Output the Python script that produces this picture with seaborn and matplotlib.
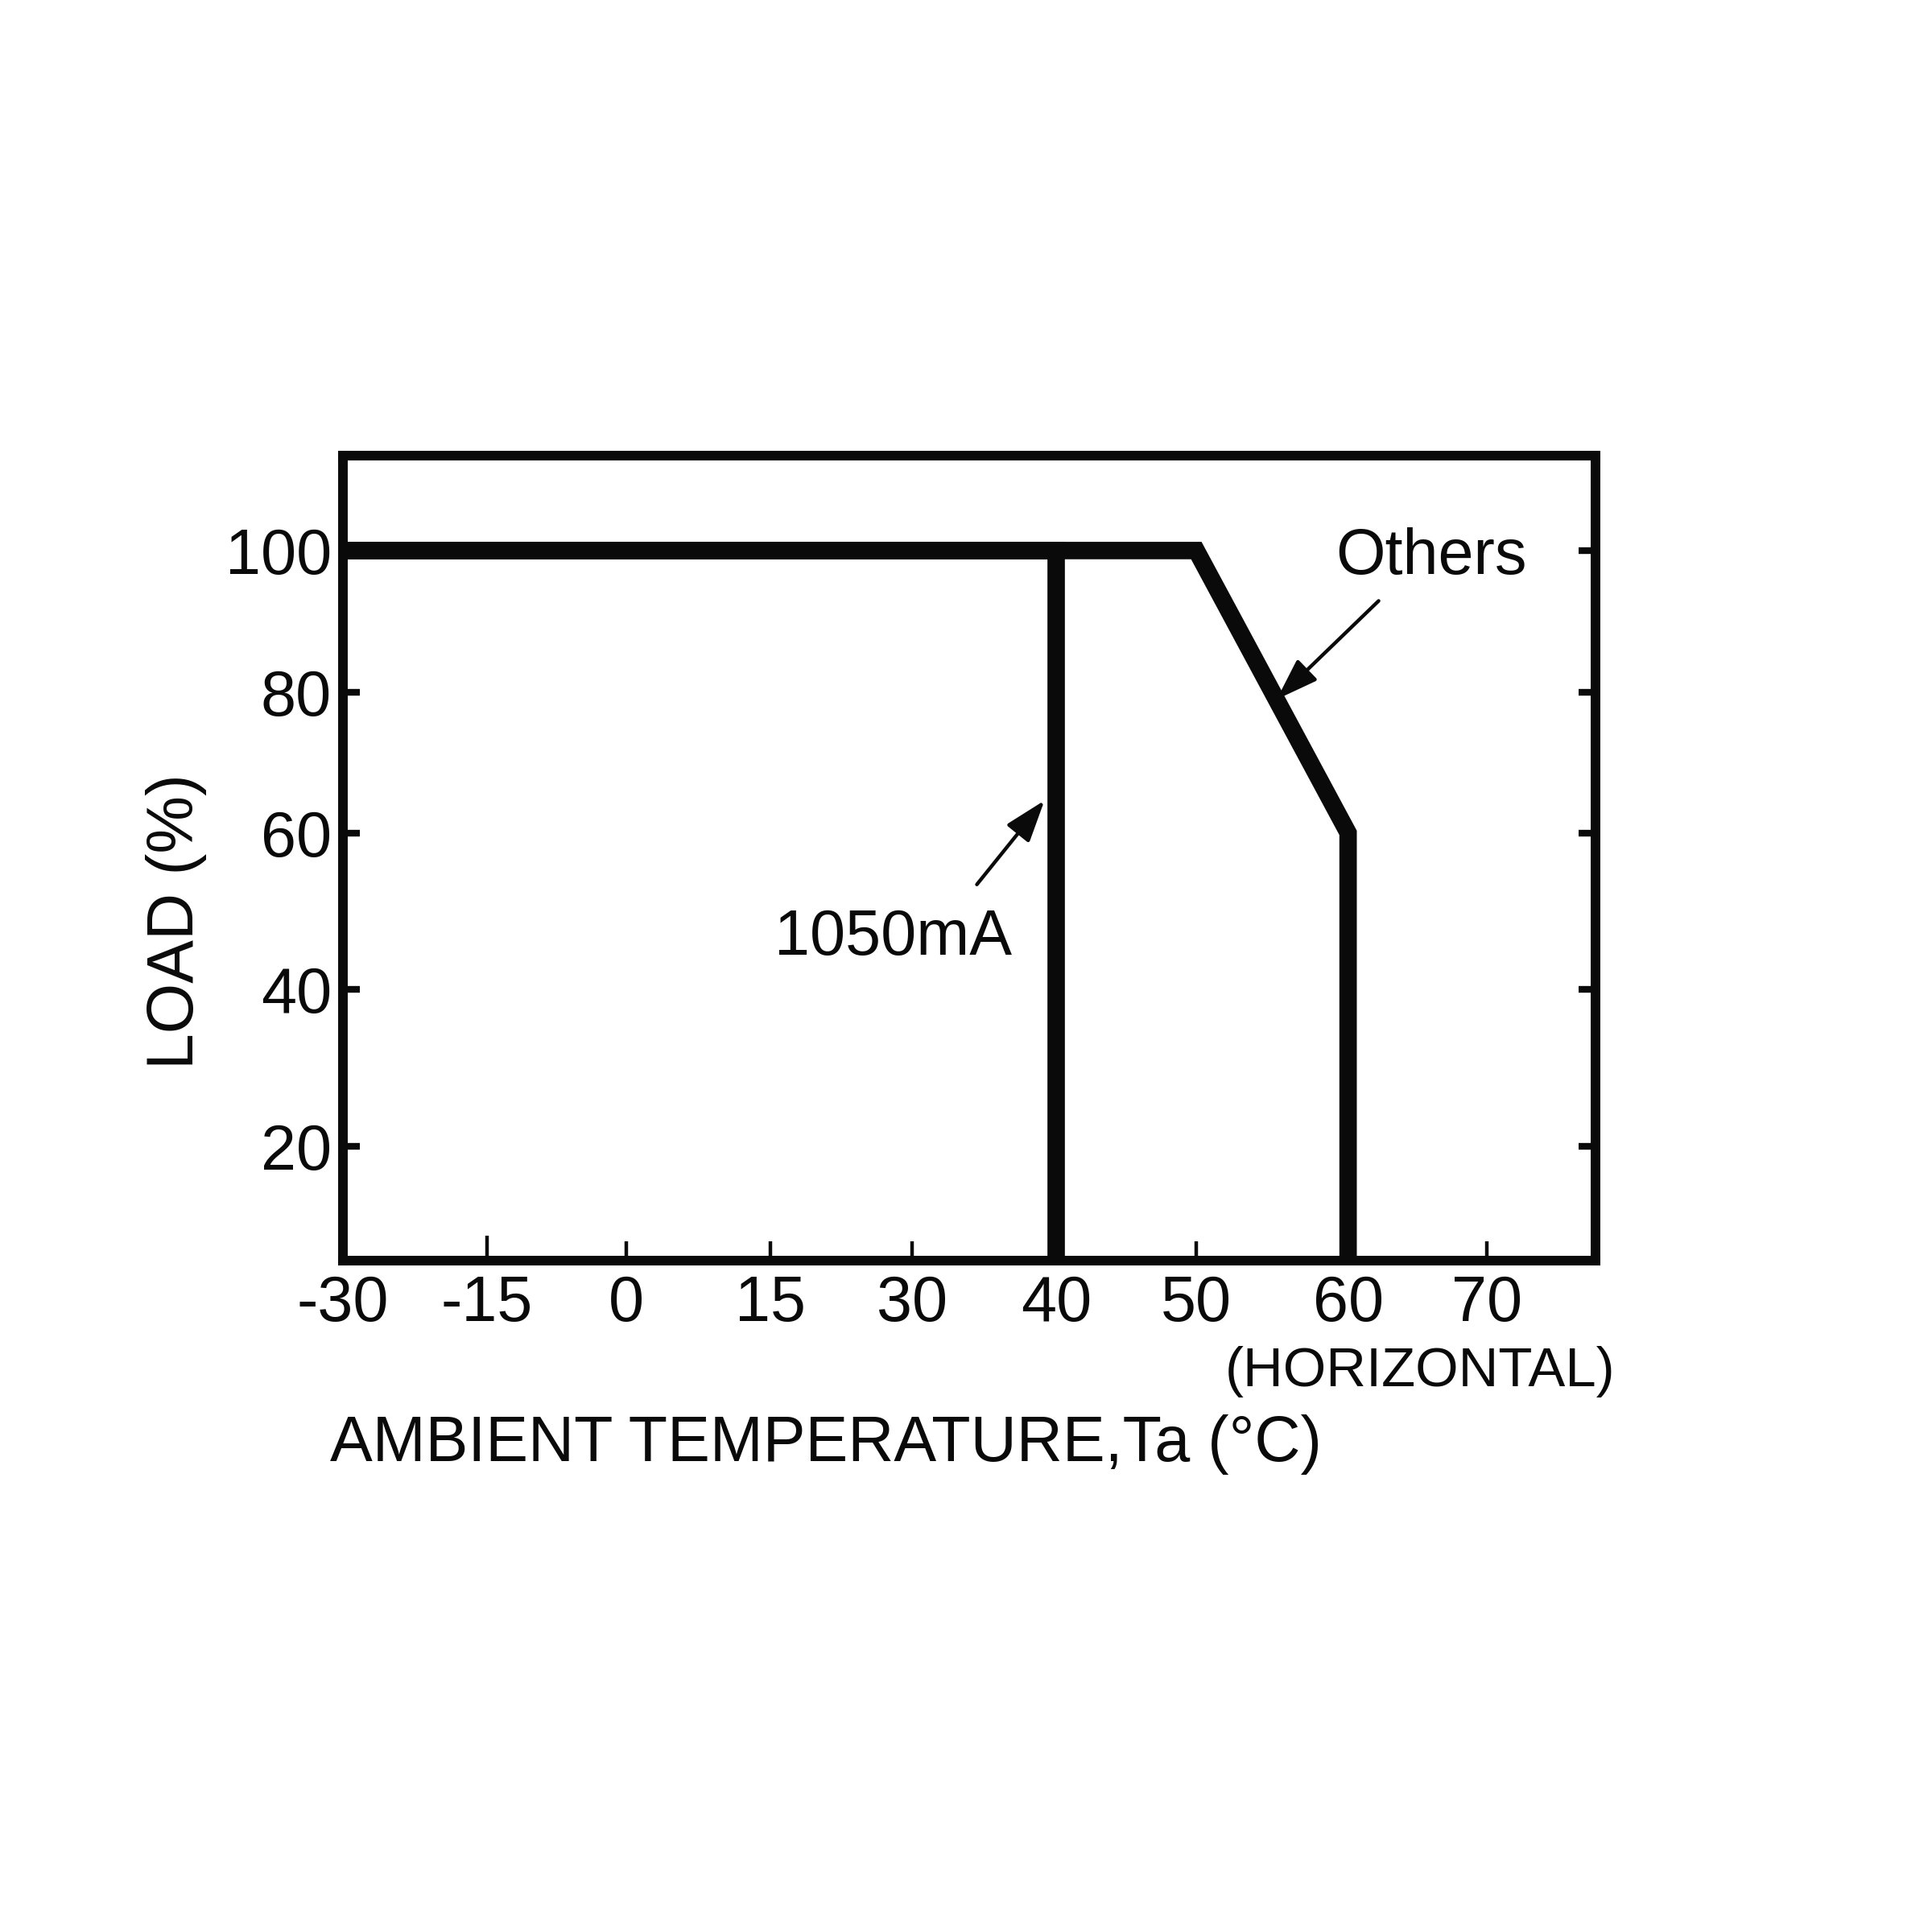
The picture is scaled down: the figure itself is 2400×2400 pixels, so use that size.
"""
Derating curve: output load vs ambient temperature.
The temperature axis in the datasheet is not linear (15 degC steps below 30,
10 degC steps above), so a piecewise function scale reproduces that spacing.
"""

import numpy as np
import matplotlib
matplotlib.use("Agg")
import matplotlib.pyplot as plt
import seaborn as sns

# ---- data -------------------------------------------------------------
TEMP_TICKS = [-30, -15, 0, 15, 30, 40, 50, 60, 70]
TEMP_TICK_LABELS = ["-30", "-15", "0", "15", "30", "40", "50", "60", "70"]
LOAD_TICKS = [20, 40, 60, 80, 100]

OTHERS_TEMP = [-30, 50, 60, 60]
OTHERS_LOAD = [100, 100, 60, 0]

MA1050_TEMP = [-30, 40, 40]
MA1050_LOAD = [100, 100, 0]

INK = "#0a0a0a"

# ---- piecewise axis scales (tick spacing as drawn on the datasheet) ---
X_KNOTS = [-45, -30, -15, 0, 15, 30, 40, 50, 60, 70, 80]
X_POS = [-1, 0, 1.006, 1.98, 2.985, 3.975, 4.98, 5.96, 7.02, 7.99, 9.0]
Y_KNOTS = [0, 20, 40, 60, 80, 100, 120]
Y_POS = [-127, 0, 127, 254, 368, 483, 598]


def x_fwd(v):
    return np.interp(v, X_KNOTS, X_POS)


def x_inv(p):
    return np.interp(p, X_POS, X_KNOTS)


def y_fwd(v):
    return np.interp(v, Y_KNOTS, Y_POS)


def y_inv(p):
    return np.interp(p, Y_POS, Y_KNOTS)


sns.set_theme(style="white")
plt.rcParams["font.family"] = ["Liberation Sans", "DejaVu Sans"]
plt.rcParams["axes.unicode_minus"] = False

fig = plt.figure(figsize=(12, 12), dpi=200)
ax = fig.add_axes([0.1775, 0.3475, 0.6483, 0.4167])
ax.set_xscale("function", functions=(x_fwd, x_inv))
ax.set_yscale("function", functions=(y_fwd, y_inv))

sns.lineplot(x=OTHERS_TEMP, y=OTHERS_LOAD, sort=False, estimator=None,
             color=INK, lw=7.8, ax=ax)
sns.lineplot(x=MA1050_TEMP, y=MA1050_LOAD, sort=False, estimator=None,
             color=INK, lw=7.8, ax=ax)
for ln in ax.get_lines():
    ln.set_solid_joinstyle("miter")
    ln.set_solid_capstyle("butt")

ax.set_xlim(-30, 77.5)
ax.set_ylim(5.35, 113.4)

ax.set_xticks(TEMP_TICKS)
ax.set_xticklabels(TEMP_TICK_LABELS)
ax.set_yticks(LOAD_TICKS)
ax.set_yticklabels([str(v) for v in LOAD_TICKS])
ax.minorticks_off()

ax.tick_params(axis="x", direction="in", length=8.5, width=1.6, color=INK,
               labelsize=28.5, labelcolor=INK, pad=6, bottom=True, top=False)
ax.tick_params(axis="y", direction="in", length=7.5, width=3, color=INK,
               labelsize=28.5, labelcolor=INK, pad=5, left=True, right=True)
# the -15 tick is drawn a bit longer in the original
ax.xaxis.get_major_ticks()[1].tick1line.set_markersize(11)

for side in ["left", "right", "top", "bottom"]:
    ax.spines[side].set_visible(True)
    ax.spines[side].set_color(INK)
    ax.spines[side].set_linewidth(4.3)

ax.set_xlabel("")
ax.set_ylabel("")
ax.grid(False)

# ---- annotations ------------------------------------------------------
arrow = dict(arrowstyle="-|>,head_length=1.6,head_width=0.55", color=INK,
             lw=1.6, mutation_scale=10, shrinkA=0, shrinkB=0)
ax.annotate("", xy=(55.3, 79), xytext=(62.2, 92.9), arrowprops=arrow)
ax.text(66, 99, "Others", fontsize=28.5, color=INK, ha="center", va="center")

ax.annotate("", xy=(39.2, 64.6), xytext=(34.5, 53.4), arrowprops=arrow)
ax.text(28.0, 46.5, "1050mA", fontsize=28.5, color=INK, ha="center", va="center")

fig.text(0.0913, 0.523, "LOAD (%)", rotation=90,
         fontsize=29, color=INK, ha="center", va="center")
fig.text(0.171, 0.2525, "AMBIENT TEMPERATURE,Ta (°C)", fontsize=28.5,
         color=INK, ha="left", va="center")
fig.text(0.836, 0.29, "(HORIZONTAL)", fontsize=24.8, color=INK,
         ha="right", va="center")

fig.savefig("out.png", dpi=200, facecolor="white")
plt.close(fig)
